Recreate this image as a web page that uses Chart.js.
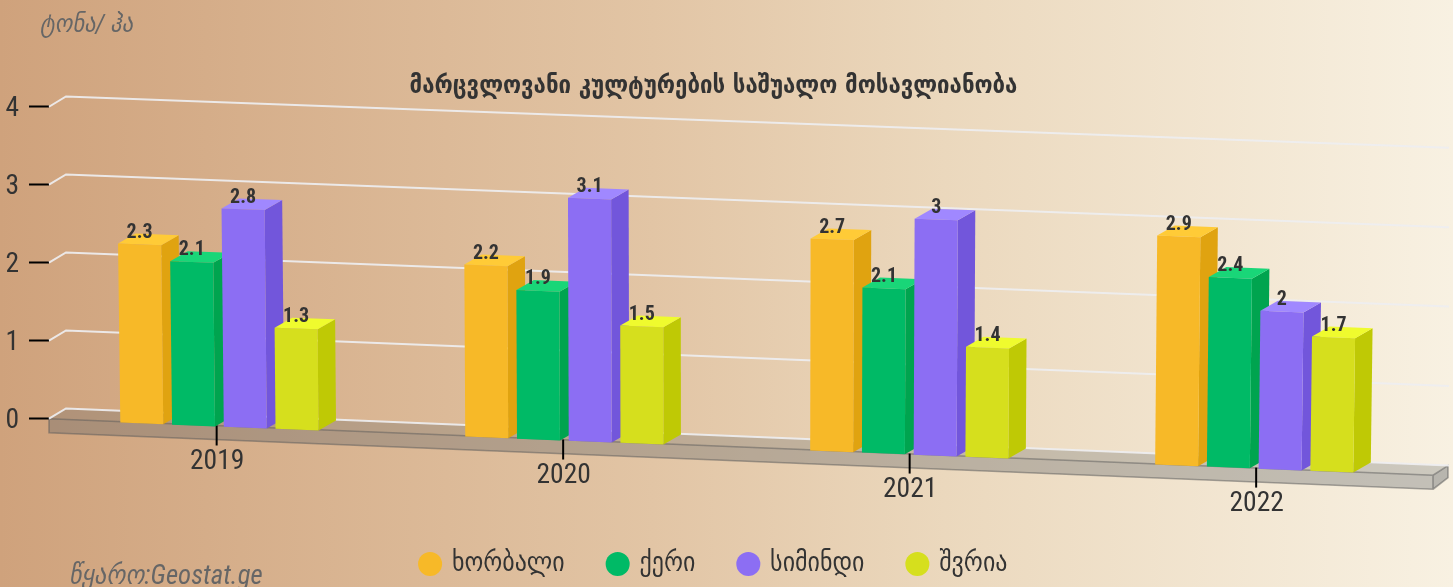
<!DOCTYPE html>
<html><head><meta charset="utf-8">
<style>
html,body{margin:0;padding:0;width:1453px;height:587px;overflow:hidden;background:linear-gradient(90deg,#cfa27c 0%,#e2c5a5 45%,#ebd8bd 65%,#f8f1e2 100%)}
#wrap{position:relative;width:1453px;height:587px}
canvas{display:block}
</style>
<script src="https://cdn.jsdelivr.net/npm/chart.js@4"></script>
</head><body><div id="wrap"><canvas id="c" width="1453" height="587"></canvas></div>
<script>
const years = ['2019','2020','2021','2022'];
const wheat = [2.3,2.2,2.7,2.9];
const barley = [2.1,1.9,2.1,2.4];
const maize = [2.8,3.1,3,2];
const oats = [1.3,1.5,1.4,1.7];
const seriesNames = ['ხორბალი','ქერი','სიმინდი','შვრია'];
const frontColors = ['#F7B928','#00BA66','#8C6EF3','#D6DF1D'];
const sideColors = ['#E0A310','#00A44F','#7256DB','#BFC905'];
const topColors = ['#FFCB37','#19D678','#A088FF','#EFFB2E'];
const titleText = 'მარცვლოვანი კულტურების საშუალო მოსავლიანობა';
const unitText = 'ტონა/ ჰა';
const sourceText = 'წყარო:Geostat.ge';

const FAMILY = 'Roboto, "DejaVu Sans"';
const K = 0.0405, M = 1.3e-5, C = 2.1e-5, XC = 720;
const DX = 17.5, DY = -10, SHIFT = -5.6, LIFT = 1.5;

function project(area, x, y, y0) {
  const v = y0 - y;
  const px = 219.4 + (x - 222.25) * 0.9955;
  return [px + C * (px - XC) * v, y + K * (px - area.left) + LIFT - M * (px - area.left) * v];
}
function quad(ctx, pts, fill) {
  ctx.beginPath();
  pts.forEach((p, i) => i ? ctx.lineTo(p[0], p[1]) : ctx.moveTo(p[0], p[1]));
  ctx.closePath();
  ctx.fillStyle = fill;
  ctx.fill();
}
const scene = {
  id: 'scene',
  afterLayout(chart) {
    const lg = chart.legend, tb = chart.titleBlock;
    lg.left -= 3; lg.right -= 3;
    tb.left -= 4; tb.right -= 4;
    const h = lg.bottom - lg.top;
    lg.top = 564 - lg.options.labels.font.size / 2 - lg.options.labels.padding;
    lg.bottom = lg.top + h;
  },
  beforeDatasetsDraw(chart) {
    const {ctx, chartArea: a, scales} = chart;
    const y = scales.y, x = scales.x;
    const L = a.left, R = a.right - 2, y0 = y.getPixelForValue(0);
    const bk = 1384;
    ctx.save();
    // floor
    const f = [L, y0], fr = [R, y0 + K * bk + 0.5], bl = [L + 17, y0 - 10.5], br = [R + 15, y0 - 10.5 + 57.5];
    const h = 14;
    quad(ctx, [f, bl, br, fr], 'rgba(95,100,105,0.28)');
    quad(ctx, [f, fr, [fr[0], fr[1] + h], [f[0], f[1] + h]], 'rgba(95,100,105,0.34)');
    quad(ctx, [fr, br, [br[0], br[1] + 12], [fr[0], fr[1] + h]], 'rgba(95,100,105,0.42)');
    ctx.strokeStyle = 'rgba(90,90,90,0.5)'; ctx.lineWidth = 1.6;
    ctx.beginPath();
    ctx.moveTo(f[0], f[1]); ctx.lineTo(fr[0], fr[1]); ctx.lineTo(fr[0], fr[1] + h);
    ctx.lineTo(f[0], f[1] + h); ctx.closePath();
    ctx.moveTo(fr[0], fr[1]); ctx.lineTo(br[0], br[1]); ctx.lineTo(br[0], br[1] + 12); ctx.lineTo(fr[0], fr[1] + h);
    ctx.stroke();
    // grid
    ctx.strokeStyle = 'rgba(238,238,240,0.92)'; ctx.lineWidth = 2;
    y.ticks.forEach(t => {
      const yy = y.getPixelForValue(t.value);
      const ly = yy - 10.3;
      ctx.beginPath();
      ctx.moveTo(L, yy);
      ctx.lineTo(L + 17, ly);
      ctx.lineTo(R + 16, ly + 57 - 1.4 * t.value);
      ctx.stroke();
    });
    // x ticks and labels
    ctx.strokeStyle = '#000'; ctx.lineWidth = 2;
    ctx.fillStyle = '#333';
    ctx.font = 'condensed 27.5px ' + FAMILY;
    ctx.textAlign = 'center'; ctx.textBaseline = 'middle';
    x.ticks.forEach((t, i) => {
      const px = x.getPixelForTick(i) + SHIFT;
      const py = y0 + K * (px - L);
      ctx.beginPath(); ctx.moveTo(px, py); ctx.lineTo(px, py + 20); ctx.stroke();
      ctx.fillText(x.getLabelForValue(t.value), px + 0.5, py + 37);
    });
    ctx.restore();
  },
  beforeDatasetDraw() {
    return false;
  },
  afterDatasetsDraw(chart) {
    const {ctx, chartArea: a} = chart;
    ctx.save();
    chart.data.datasets.forEach((ds, i) => {
      chart.getDatasetMeta(i).data.forEach(el => {
        const l = el.x - el.width / 2, r = el.x + el.width / 2;
        const P = (px, py) => project(a, px, py, el.base);
        const fl = P(l, el.base), fr = P(r, el.base), tr = P(r, el.y), tl = P(l, el.y);
        const d = p => [p[0] + DX, p[1] + DY];
        quad(ctx, [fr, tr, d(tr), d(fr)], sideColors[i]);
        quad(ctx, [tl, d(tl), d(tr), tr], topColors[i]);
        quad(ctx, [fl, tl, tr, fr], frontColors[i]);
      });
    });
    ctx.fillStyle = '#333';
    ctx.font = 'condensed bold 20px ' + FAMILY;
    ctx.textAlign = 'center'; ctx.textBaseline = 'middle';
    chart.data.datasets.forEach((ds, i) => {
      chart.getDatasetMeta(i).data.forEach((el, j) => {
        const p = project(a, el.x, el.y, el.base);
        ctx.fillText(String(ds.data[j]), p[0], p[1] - 11.5);
      });
    });
    ctx.fillStyle = '#666';
    ctx.textAlign = 'left';
    ctx.font = 'italic condensed 25px ' + FAMILY;
    ctx.fillText(unitText, 40, 26);
    ctx.font = 'italic condensed 26.8px ' + FAMILY;
    ctx.fillText(sourceText, 69, 577);
    ctx.restore();
  }
};

const seriesData = [wheat, barley, maize, oats];
new Chart(document.getElementById('c'), {
  type: 'bar',
  data: {
    labels: years,
    datasets: seriesNames.map((n, i) => ({
      label: n, data: seriesData[i], backgroundColor: frontColors[i],
      clip: false,
      categoryPercentage: 0.6, barPercentage: 0.83
    }))
  },
  plugins: [scene],
  options: {
    responsive: false, animation: false,
    layout: {padding: {left: 0, right: 18, top: 0, bottom: 0}},
    plugins: {
      tooltip: {enabled: false},
      title: {display: true, text: titleText, color: '#333',
        font: {family: '"DejaVu Sans"', size: 24.7, weight: 'bold condensed', lineHeight: 1.2},
        padding: {top: 72, bottom: 5.1}},
      legend: {position: 'bottom', onClick: null,
        labels: {usePointStyle: true, boxHeight: 17, boxWidth: 17, padding: 44.5, color: '#333',
          font: {family: FAMILY, size: 26.6, weight: 'condensed'}},
        }
    },
    scales: {
      x: {grid: {display: false}, border: {display: false}, ticks: {display: false},
        afterFit(s) { s.height = 587 - s.chart.legend.height - 418.7; }},
      y: {min: 0, max: 4, beginAtZero: true,
        border: {display: false},
        grid: {drawOnChartArea: false, drawTicks: true, tickLength: 20, tickColor: '#000', tickWidth: 2},
        ticks: {stepSize: 1, color: '#333', padding: 10, labelOffset: 2.5, font: {family: FAMILY, size: 27.5, weight: 'condensed'}},
        afterFit(s) { s.width = 49; }}
    }
  }
});
</script></body></html>
